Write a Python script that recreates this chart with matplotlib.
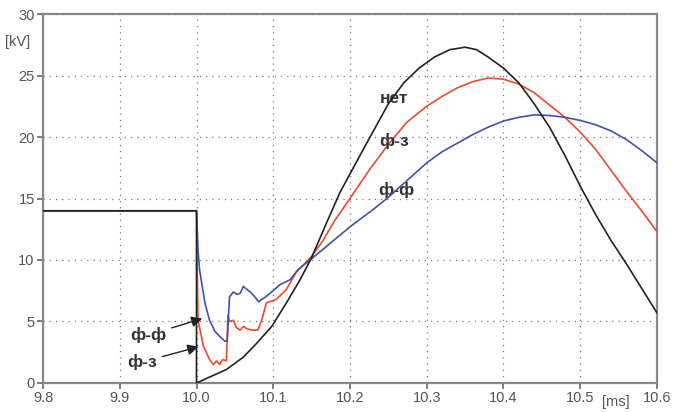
import matplotlib
matplotlib.use("Agg")
import matplotlib.pyplot as plt

plt.rcParams['font.family'] = ['Liberation Sans', 'DejaVu Sans']

# "нет" - black curve
t_net = [9.8, 10.0, 10.0, 10.039, 10.061, 10.078, 10.098, 10.117, 10.135, 10.15,
         10.17, 10.187, 10.2, 10.22, 10.25, 10.27, 10.29, 10.31, 10.33, 10.35,
         10.365, 10.38, 10.4, 10.42, 10.44, 10.46, 10.48, 10.5, 10.52, 10.54,
         10.56, 10.58, 10.6]
v_net = [14.0, 14.0, 0.0, 1.1, 2.1, 3.2, 4.6, 6.5, 8.4, 10.2,
         13.1, 15.5, 17.0, 19.3, 22.7, 24.4, 25.6, 26.5, 27.1, 27.3,
         27.1, 26.5, 25.6, 24.4, 22.7, 20.8, 18.5, 16.0, 13.7, 11.6,
         9.7, 7.7, 5.7]

# "ф-з" - red curve
t_fz = [9.8, 10.0, 10.001, 10.002, 10.009, 10.017, 10.022, 10.026, 10.03, 10.034,
        10.039, 10.041, 10.043, 10.048, 10.052, 10.057, 10.061, 10.066, 10.072,
        10.08, 10.085, 10.091, 10.104, 10.117, 10.13, 10.15, 10.165, 10.18, 10.2,
        10.226, 10.25, 10.274, 10.3, 10.32, 10.34, 10.36, 10.38, 10.4, 10.42,
        10.44, 10.46, 10.48, 10.5, 10.52, 10.54, 10.56, 10.58, 10.6]
v_fz = [14.0, 14.0, 9.0, 5.1, 3.0, 1.9, 1.5, 1.8, 1.5, 1.9,
        1.8, 5.5, 5.0, 5.1, 4.5, 4.3, 4.6, 4.4, 4.3,
        4.3, 5.1, 6.5, 6.8, 7.6, 9.0, 10.3, 11.6, 13.2, 15.0,
        17.4, 19.4, 21.2, 22.5, 23.3, 24.0, 24.5, 24.8, 24.7, 24.3,
        23.6, 22.6, 21.6, 20.4, 19.0, 17.3, 15.6, 14.0, 12.3]

# "ф-ф" - blue curve
t_ff = [9.8, 10.0, 10.002, 10.004, 10.011, 10.017, 10.024, 10.03, 10.037, 10.04,
        10.043, 10.048, 10.053, 10.057, 10.061, 10.066, 10.07, 10.076, 10.081,
        10.085, 10.09, 10.096, 10.109, 10.122, 10.132, 10.15, 10.175, 10.2, 10.23,
        10.25, 10.275, 10.3, 10.32, 10.34, 10.36, 10.38, 10.4, 10.42, 10.44,
        10.46, 10.48, 10.5, 10.52, 10.54, 10.56, 10.58, 10.6]
v_ff = [14.0, 14.0, 10.8, 9.2, 6.5, 5.1, 4.2, 3.8, 3.4, 3.4,
        7.0, 7.4, 7.2, 7.3, 7.85, 7.6, 7.4, 7.0, 6.6,
        6.8, 7.0, 7.3, 8.0, 8.4, 9.2, 10.1, 11.4, 12.7, 14.1,
        15.1, 16.5, 17.9, 18.8, 19.5, 20.2, 20.8, 21.3, 21.6, 21.8,
        21.75, 21.6, 21.35, 21.0, 20.5, 19.8, 18.9, 17.9]

x_ticks = [9.8, 9.9, 10.0, 10.1, 10.2, 10.3, 10.4, 10.5, 10.6]
y_ticks = [0, 5, 10, 15, 20, 25, 30]

fig = plt.figure(figsize=(6.86, 4.12), dpi=100)
ax = fig.add_axes([0.0627, 0.0704, 0.895, 0.8956])

ax.plot(t_fz, v_fz, color="#ee4b2b", lw=1.2, zorder=3)
ax.plot(t_ff, v_ff, color="#3f52b0", lw=1.2, zorder=4)
ax.plot(t_net, v_net, color="#222222", lw=1.2, zorder=5)

ax.set_xlim(9.8, 10.6)
ax.set_ylim(0, 30)
ax.set_xticks(x_ticks)
ax.set_xticklabels([f"{v:.1f}" for v in x_ticks])
ax.set_yticks(y_ticks)
ax.grid(True, linestyle=(0, (1, 4)), color="#777777", lw=0.9)
ax.tick_params(direction="out", length=4, width=1.2, color="#666666",
               labelcolor="#555555", labelsize=10.5, pad=2)
for s in ax.spines.values():
    s.set_color("#888888")
    s.set_linewidth(1.6)

# unit labels
fig.text(0.026, 0.897, "[kV]", color="#555555", fontsize=10.5, ha="center", va="center")
ax.text(10.547, -1.0, "[ms]", color="#555555", fontsize=10.5, ha="center", va="top")

# curve labels
lab = dict(color="#333333", fontsize=12.5, fontweight="bold", ha="center", va="center")
ax.text(10.257, 23.1, "нет", **lab)
ax.text(10.257, 19.7, "ф-з", **lab)
ax.text(10.26, 15.7, "ф-ф", **lab)

arr = dict(arrowstyle="-|>", color="#222222", lw=1.0, mutation_scale=16)
ax.annotate("ф-ф", xy=(10.011, 5.3), xytext=(9.937, 3.9), arrowprops=arr, **lab)
ax.annotate("ф-з", xy=(10.006, 3.0), xytext=(9.929, 1.7), arrowprops=arr, **lab)

fig.savefig("out.png", dpi=100)
